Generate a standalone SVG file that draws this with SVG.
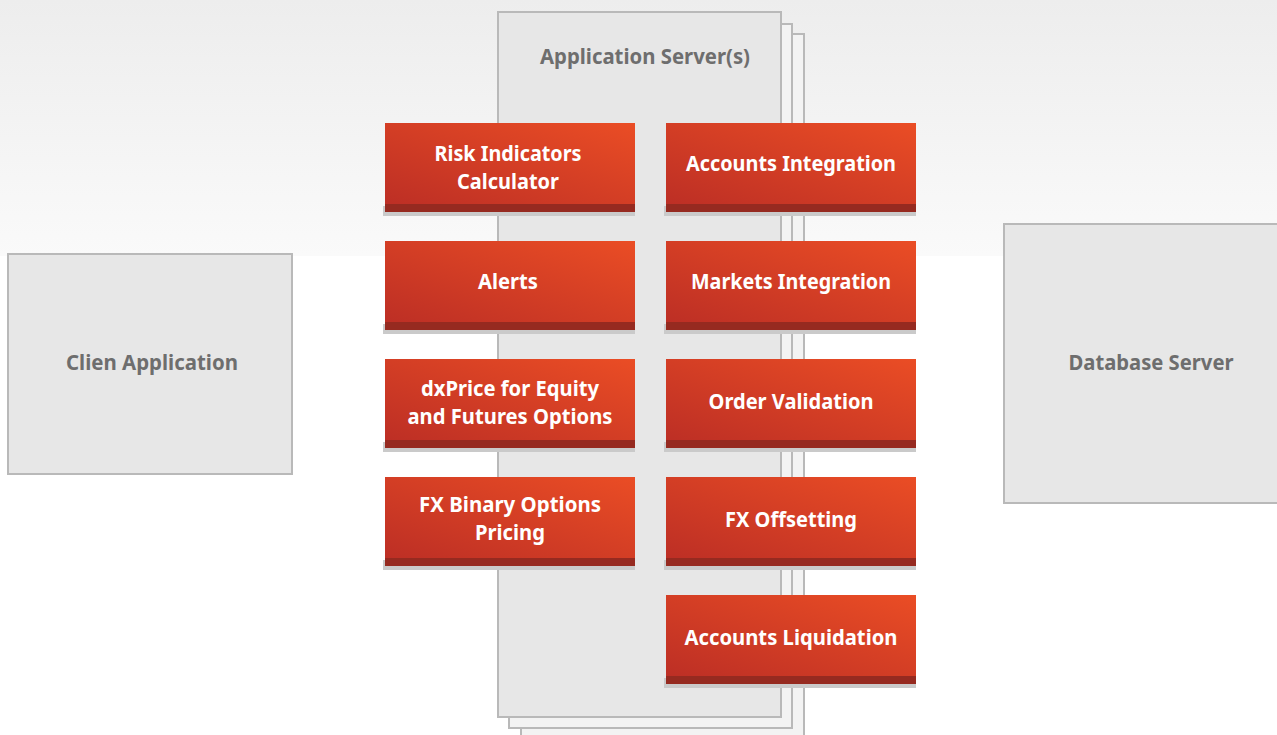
<svg xmlns="http://www.w3.org/2000/svg" width="1277" height="735" viewBox="0 0 1277 735">
<defs>
<linearGradient id="bg" x1="0" y1="0" x2="0" y2="1">
<stop offset="0" stop-color="#ededed"/>
<stop offset="1" stop-color="#fafafa"/>
</linearGradient>
<linearGradient id="red" x1="0" y1="1" x2="1" y2="0">
<stop offset="0" stop-color="#bd2f25"/>
<stop offset="1" stop-color="#ea4d25"/>
</linearGradient>
<g id="box">
<rect x="-2" y="83" width="252" height="10" fill="#cacaca"/>
<rect x="0" y="0" width="250" height="81" fill="url(#red)"/>
<rect x="0" y="81" width="250" height="8" fill="#962a20"/>
</g>
</defs>
<style>
.gray{fill:#e7e7e7;stroke:#b9b9b9;stroke-width:2}
.back{fill:#f3f3f3;stroke:#b9b9b9;stroke-width:2}
.gt{font-family:"Noto Sans","Open Sans",sans-serif;font-weight:bold;font-size:22px;fill:#6e6e6e;text-anchor:middle}
.wt{font-family:"Noto Sans","Open Sans",sans-serif;font-weight:bold;font-size:21px;fill:#ffffff;text-anchor:middle}
</style>
<rect x="0" y="0" width="1277" height="735" fill="#ffffff"/>
<rect x="0" y="0" width="1277" height="256" fill="url(#bg)"/>
<g id="connectors"/>
<g id="client">
<rect class="gray" x="8" y="254" width="284" height="220"/>
<text class="gt" x="152" y="370" textLength="172" lengthAdjust="spacingAndGlyphs">Clien Application</text>
</g>
<g id="database">
<rect class="gray" x="1004" y="224" width="290" height="279"/>
<text class="gt" x="1151" y="370" textLength="165" lengthAdjust="spacingAndGlyphs">Database Server</text>
</g>
<g id="appserver">
<rect class="back" x="521" y="34" width="283" height="720"/>
<rect class="back" x="509" y="24" width="283" height="704"/>
<rect class="gray" x="498" y="12" width="283" height="705"/>
<text class="gt" x="645" y="64" textLength="210" lengthAdjust="spacingAndGlyphs">Application Server(s)</text>
</g>
<g id="risk">
<use href="#box" x="385" y="123"/>
<text class="wt" x="508" y="161" textLength="147" lengthAdjust="spacingAndGlyphs">Risk Indicators</text>
<text class="wt" x="508" y="189" textLength="102" lengthAdjust="spacingAndGlyphs">Calculator</text>
</g>
<g id="alerts">
<use href="#box" x="385" y="241"/>
<text class="wt" x="508" y="289" textLength="60" lengthAdjust="spacingAndGlyphs">Alerts</text>
</g>
<g id="dxprice">
<use href="#box" x="385" y="359"/>
<text class="wt" x="510" y="396" textLength="178" lengthAdjust="spacingAndGlyphs">dxPrice for Equity</text>
<text class="wt" x="510" y="424" textLength="205" lengthAdjust="spacingAndGlyphs">and Futures Options</text>
</g>
<g id="fxbinary">
<use href="#box" x="385" y="477"/>
<text class="wt" x="510" y="512" textLength="182" lengthAdjust="spacingAndGlyphs">FX Binary Options</text>
<text class="wt" x="510" y="540" textLength="70" lengthAdjust="spacingAndGlyphs">Pricing</text>
</g>
<g id="accint">
<use href="#box" x="666" y="123"/>
<text class="wt" x="791" y="171" textLength="210" lengthAdjust="spacingAndGlyphs">Accounts Integration</text>
</g>
<g id="mktint">
<use href="#box" x="666" y="241"/>
<text class="wt" x="791" y="289" textLength="200" lengthAdjust="spacingAndGlyphs">Markets Integration</text>
</g>
<g id="ordval">
<use href="#box" x="666" y="359"/>
<text class="wt" x="791" y="409" textLength="165" lengthAdjust="spacingAndGlyphs">Order Validation</text>
</g>
<g id="fxoff">
<use href="#box" x="666" y="477"/>
<text class="wt" x="791" y="527" textLength="132" lengthAdjust="spacingAndGlyphs">FX Offsetting</text>
</g>
<g id="accliq">
<use href="#box" x="666" y="595"/>
<text class="wt" x="791" y="645" textLength="213" lengthAdjust="spacingAndGlyphs">Accounts Liquidation</text>
</g>
</svg>
